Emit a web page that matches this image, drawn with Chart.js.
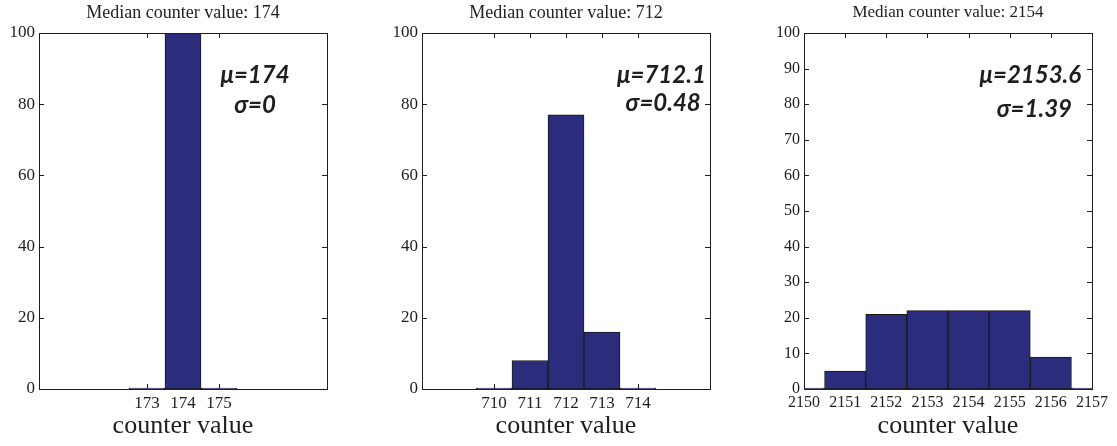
<!DOCTYPE html>
<html>
<head>
<meta charset="utf-8">
<script src="https://cdn.jsdelivr.net/npm/chart.js@4"></script>
<style>
  html, body { margin: 0; padding: 0; background: #fff; }
  #wrap { position: relative; width: 1117px; height: 446px; }
  canvas { position: absolute; top: 0; }
</style>
</head>
<body>
<div id="wrap">
  <canvas id="c1" width="372" height="446" style="left:0px"></canvas>
  <canvas id="c2" width="372" height="446" style="left:372px"></canvas>
  <canvas id="c3" width="373" height="446" style="left:744px"></canvas>
</div>
<script>
// histogram data
const bins174 = [173, 174, 175];
const counts174 = [0, 100, 0];
const ticks174 = [173, 174, 175];

const bins712 = [710, 711, 712, 713, 714];
const counts712 = [0, 8, 77, 16, 0];
const ticks712 = [710, 711, 712, 713, 714];

const bins2154 = [2150, 2151, 2152, 2153, 2154, 2155, 2156, 2157];
const counts2154 = [0, 5, 21, 22, 22, 22, 9, 0];
const ticks2154 = [2150, 2151, 2152, 2153, 2154, 2155, 2156, 2157];

const titles = ['Median counter value: 174', 'Median counter value: 712', 'Median counter value: 2154'];
const means = ['\u03bc=174', '\u03bc=712.1', '\u03bc=2153.6'];
const sigmas = ['\u03c3=0', '\u03c3=0.48', '\u03c3=1.39'];

const ink = '#1e1e1e';
const serif = '"Liberation Serif", "Times New Roman", serif';

// matlab style box with inward ticks, drawn under the bars
const boxPlugin = {
    id: 'box',
    beforeDatasetsDraw(chart) {
        const { ctx, chartArea: a, scales: { x, y } } = chart;
        const t = 5;
        ctx.save();
        ctx.strokeStyle = ink;
        ctx.lineWidth = 1;
        ctx.beginPath();
        x.ticks.forEach(tk => {
            const px = Math.round(x.getPixelForValue(tk.value)) + 0.5;
            ctx.moveTo(px, a.top); ctx.lineTo(px, a.top + t);
            ctx.moveTo(px, a.bottom); ctx.lineTo(px, a.bottom - t);
        });
        y.ticks.forEach(tk => {
            const py = Math.round(y.getPixelForValue(tk.value)) + 0.5;
            ctx.moveTo(a.left, py); ctx.lineTo(a.left + t, py);
            ctx.moveTo(a.right, py); ctx.lineTo(a.right - t, py);
        });
        ctx.stroke();
        ctx.strokeRect(Math.round(a.left) + 0.5, Math.round(a.top) + 0.5,
            Math.round(a.right - a.left), Math.round(a.bottom - a.top));
        ctx.restore();
    },
    afterDraw(chart, args, opts) {
        const { ctx, chartArea: a, scales: { x, y } } = chart;
        ctx.save();
        ctx.fillStyle = ink;
        ctx.textAlign = 'center';
        ctx.textBaseline = 'middle';
        ctx.font = opts.titleSize + 'px ' + serif;
        ctx.fillText(opts.title, (a.left + a.right) / 2, 13);
        ctx.textBaseline = 'alphabetic';
        ctx.font = 'italic bold 24px Lato, "Open Sans", sans-serif';
        ctx.fillText(opts.mu, x.getPixelForValue(opts.muAt[0]), y.getPixelForValue(opts.muAt[1]));
        ctx.fillText(opts.sigma, x.getPixelForValue(opts.sigmaAt[0]), y.getPixelForValue(opts.sigmaAt[1]));
        ctx.restore();
    }
};

function makeHist(id, p) {
    const ctx = document.getElementById(id).getContext('2d');
    return new Chart(ctx, {
        type: 'bar',
        data: {
            datasets: [{
                data: p.bins.map((b, i) => ({ x: b, y: p.counts[i] })),
                backgroundColor: '#2b2c7c',
                borderColor: '#1a1a1a',
                borderWidth: 1,
                borderSkipped: false,
                minBarLength: 1,
                barPercentage: 1,
                categoryPercentage: 1
            }]
        },
        options: {
            responsive: false,
            animation: false,
            layout: { padding: { top: 33, right: p.rightPad, left: 0, bottom: 0 } },
            plugins: {
                legend: { display: false },
                tooltip: { enabled: false },
                box: { title: p.title, titleSize: p.titleSize, mu: p.mu, sigma: p.sigma, muAt: p.muAt, sigmaAt: p.sigmaAt }
            },
            scales: {
                x: {
                    type: 'linear',
                    min: p.xMin,
                    max: p.xMax,
                    offset: false,
                    grid: { display: false, drawTicks: false, offset: false },
                    border: { display: false },
                    afterBuildTicks: s => { s.ticks = p.xTicks.map(v => ({ value: v })); },
                    afterFit: s => { s.height = 57; },
                    ticks: {
                        autoSkip: false, maxRotation: 0, padding: 4, color: ink,
                        font: { family: serif, size: p.tickSize },
                        callback: v => String(v)
                    },
                    title: {
                        display: true, text: 'counter value', color: ink,
                        font: { family: serif, size: 26 },
                        padding: { top: 0, bottom: 4 }
                    }
                },
                y: {
                    min: 0,
                    max: 100,
                    grid: { display: false, drawTicks: false },
                    border: { display: false },
                    afterFit: s => { s.width = p.axisW; },
                    ticks: {
                        stepSize: p.yStep, padding: 4, color: ink,
                        font: { family: serif, size: p.tickSize }
                    }
                }
            }
        },
        plugins: [boxPlugin]
    });
}

makeHist('c1', {
    bins: bins174, counts: counts174, xTicks: ticks174, xMin: 170, xMax: 178, yStep: 20,
    axisW: 39, rightPad: 45, tickSize: 17, titleSize: 18,
    title: titles[0], mu: means[0], sigma: sigmas[0], muAt: [176, 86], sigmaAt: [176, 77.5]
});
makeHist('c2', {
    bins: bins712, counts: counts712, xTicks: ticks712, xMin: 708, xMax: 716, yStep: 20,
    axisW: 50, rightPad: 34, tickSize: 17, titleSize: 18,
    title: titles[1], mu: means[1], sigma: sigmas[1], muAt: [714.65, 86], sigmaAt: [714.7, 78]
});
makeHist('c3', {
    bins: bins2154, counts: counts2154, xTicks: ticks2154, xMin: 2150, xMax: 2157, yStep: 10,
    axisW: 60, rightPad: 25, tickSize: 16, titleSize: 17,
    title: titles[2], mu: means[2], sigma: sigmas[2], muAt: [2155.5, 86], sigmaAt: [2155.6, 76.3]
});
</script>
</body>
</html>
